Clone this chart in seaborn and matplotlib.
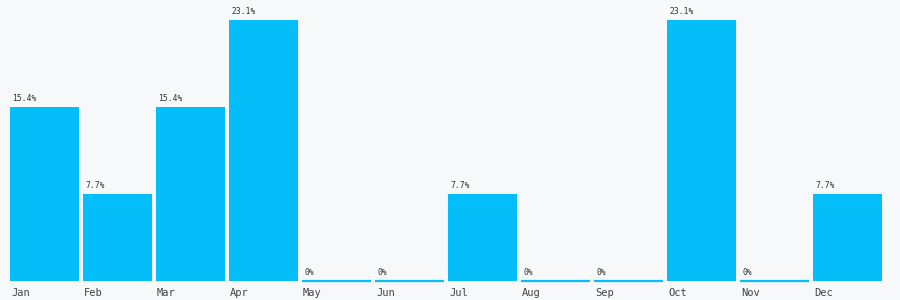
import matplotlib
matplotlib.use("Agg")
import matplotlib.pyplot as plt
import matplotlib.transforms as mtransforms
import seaborn as sns
import pandas as pd

months = ["Jan", "Feb", "Mar", "Apr", "May", "Jun", "Jul", "Aug", "Sep", "Oct", "Nov", "Dec"]
values = [15.4, 7.7, 15.4, 23.1, 0, 0, 7.7, 0, 0, 23.1, 0, 7.7]
labels = ["15.4%", "7.7%", "15.4%", "23.1%", "0%", "0%", "7.7%", "0%", "0%", "23.1%", "0%", "7.7%"]

df = pd.DataFrame({"month": months, "value": values})

sns.set_theme(style="white")
plt.rcParams["font.family"] = ["DejaVu Sans Mono", "DejaVu Sans"]

bg = "#f7f8fa"
bar_color = "#04befa"

fig = plt.figure(figsize=(9, 3), dpi=100, facecolor=bg)
ax = fig.add_axes([10 / 900, 19 / 300, 876 / 900, 281 / 300], facecolor=bg)

w = 69 / 73
sns.barplot(data=df, x="month", y="value", color=bar_color, width=w,
            saturation=1, edgecolor=bar_color, linewidth=0, ax=ax)

# zero-valued bars are shown as a thin baseline stroke
for p in ax.patches:
    if p.get_height() == 0:
        p.set_linewidth(1.6)
        p.set_edgecolor(bar_color)
        p.set_clip_on(False)

ax.set_xlim(-w / 2, 12 - w / 2)
ax.set_ylim(0, 23.1 * 281 / 261)
for s in ax.spines.values():
    s.set_visible(False)
ax.set_yticks([])
ax.set_xlabel("")
ax.set_ylabel("")

ax.set_xticks([i - w / 2 for i in range(len(months))])
ax.set_xticklabels(months, ha="left", fontsize=7.5, color="#444444")
ax.tick_params(axis="x", length=0, pad=5)
offset = mtransforms.ScaledTranslation(1 / 100, 0, fig.dpi_scale_trans)
for t in ax.get_xticklabels():
    t.set_transform(t.get_transform() + offset)

for i, (v, lab) in enumerate(zip(values, labels)):
    ax.annotate(lab, xy=(i - w / 2, v), xytext=(1.5, 3), textcoords="offset points",
                ha="left", va="bottom", fontsize=5.8, color="#333333")

fig.savefig("out.png", dpi=100, facecolor=bg)
